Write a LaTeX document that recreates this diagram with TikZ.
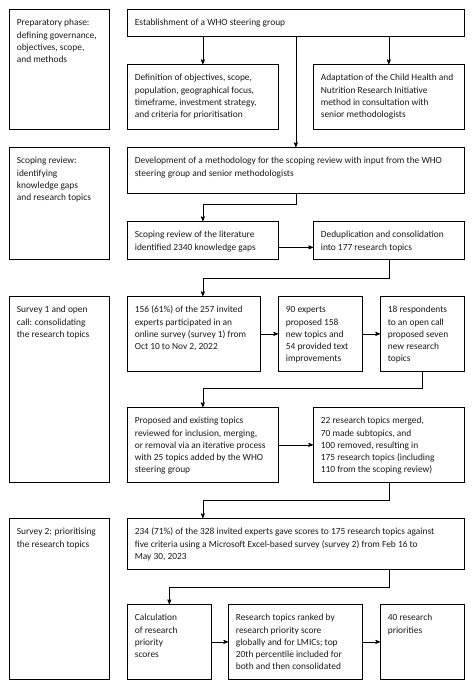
\documentclass[tikz,border=0pt]{standalone}
\usepackage{fontspec}
\setmainfont{Carlito}
\usetikzlibrary{arrows}

% text of a box: width, height, lines (top left aligned)
\newcommand{\BoxText}[3]{\parbox[c][#2][t]{#1}{\fontsize{9.4}{12.2}\selectfont
    \raggedright\leftskip=7.5pt\rule{0pt}{16.5pt}#3}}

\begin{document}
\begin{tikzpicture}[>=stealth', x=1pt, y=-1pt]
    \tikzset{StageStyle/.style = {draw,
                                  line width   = 0.7pt,
                                  inner sep    = 0pt,
                                  anchor       = north west,
                                  text         = black!90}}
    \tikzset{FlowStyle/.style  = {draw,
                                  ->,
                                  line width   = 0.7pt}}
    \useasboundingbox (0,0) rectangle (474,689);
    % phases
    \node[StageStyle] (PhasePrep)    at (9,9)   {\BoxText{100pt}{120pt}{Preparatory phase:\\defining governance,\\objectives, scope,\\and methods}};
    \node[StageStyle] (PhaseScope)   at (9,147) {\BoxText{100pt}{112pt}{Scoping review:\\identifying\\knowledge gaps\\and research topics}};
    \node[StageStyle] (PhaseSurveyA) at (9,296) {\BoxText{100pt}{186pt}{Survey 1 and open\\call: consolidating\\the research topics}};
    \node[StageStyle] (PhaseSurveyB) at (9,518) {\BoxText{100pt}{161pt}{Survey 2: prioritising\\the research topics}};
    % preparatory phase
    \node[StageStyle] (Steering)   at (127,9)  {\BoxText{337pt}{27pt}{Establishment of a WHO steering group}};
    \node[StageStyle] (Definition) at (127,64) {\BoxText{151pt}{65pt}{Definition of objectives, scope,\\population, geographical focus,\\timeframe, investment strategy,\\and criteria for prioritisation}};
    \node[StageStyle] (Adaptation) at (313,64) {\BoxText{151pt}{65pt}{Adaptation of the Child Health and\\Nutrition Research Initiative\\method in consultation with\\senior methodologists}};
    % scoping review
    \node[StageStyle] (Method)  at (127,147) {\BoxText{337pt}{46pt}{Development of a methodology for the scoping review with input from the WHO\\steering group and senior methodologists}};
    \node[StageStyle] (Scoping) at (127,221) {\BoxText{151pt}{38pt}{Scoping review of the literature\\identified 2340 knowledge gaps}};
    \node[StageStyle] (Dedup)   at (313,221) {\BoxText{151pt}{38pt}{Deduplication and consolidation\\into 177 research topics}};
    % survey 1
    \node[StageStyle] (Online)   at (127,296) {\BoxText{133pt}{75pt}{156 (61\%) of the 257 invited\\experts participated in an\\online survey (survey 1) from\\Oct 10 to Nov 2, 2022}};
    \node[StageStyle] (Experts)  at (278,296) {\BoxText{84pt}{75pt}{90 experts\\proposed 158\\new topics and\\54 provided text\\improvements}};
    \node[StageStyle] (OpenCall) at (380,296) {\BoxText{84pt}{75pt}{18 respondents\\to an open call\\proposed seven\\new research\\topics}};
    \node[StageStyle] (Review)   at (127,407) {\BoxText{151pt}{75pt}{Proposed and existing topics\\reviewed for inclusion, merging,\\or removal via an iterative process\\with 25 topics added by the WHO\\steering group}};
    \node[StageStyle] (Merged)   at (313,407) {\BoxText{151pt}{75pt}{22 research topics merged,\\70 made subtopics, and\\100 removed, resulting in\\175 research topics (including\\110 from the scoping review)}};
    % survey 2
    \node[StageStyle] (Survey)     at (127,518) {\BoxText{337pt}{51pt}{234 (71\%) of the 328 invited experts gave scores to 175 research topics against\\five criteria using a Microsoft Excel-based survey (survey 2) from Feb 16 to\\May 30, 2023}};
    \node[StageStyle] (Scores)     at (127,604) {\BoxText{84pt}{75pt}{Calculation\\of research\\priority\\scores}};
    \node[StageStyle] (Ranked)     at (228,604) {\BoxText{134pt}{75pt}{Research topics ranked by\\research priority score\\globally and for LMICs; top\\20th percentile included for\\both and then consolidated}};
    \node[StageStyle] (Priorities) at (380,604) {\BoxText{84pt}{75pt}{40 research\\priorities}};
    % connectors
    \draw[FlowStyle] (Steering.south -| Definition.north) -- (Definition.north);
    \draw[FlowStyle] (Steering.south -| Adaptation.north) -- (Adaptation.north);
    \draw[FlowStyle] (Steering.south) -- (Method.north);
    \draw[FlowStyle] (Method.south) -- ++(0,11) -| (Scoping.north);
    \draw[FlowStyle] ([yshift=-7pt]Scoping.east) -- ([yshift=-7pt]Dedup.west);
    \draw[FlowStyle] (Dedup.south) -- ++(0,19) -| (Online.north -| Review.north);
    \draw[FlowStyle] (Online) -- (Experts);
    \draw[FlowStyle] (Experts) -- (OpenCall);
    \draw[FlowStyle] (OpenCall.south) -- ++(0,17) -| (Review.north);
    \draw[FlowStyle] (Review) -- (Merged);
    \draw[FlowStyle] (Merged.south) -- ++(0,18) -| (Survey.north -| Review.north);
    \draw[FlowStyle] (Survey.south -| Merged.south) -- ++(0,18) -| (Scores.north);
    \draw[FlowStyle] (Scores) -- (Ranked);
    \draw[FlowStyle] (Ranked) -- (Priorities);
\end{tikzpicture}
\end{document}
